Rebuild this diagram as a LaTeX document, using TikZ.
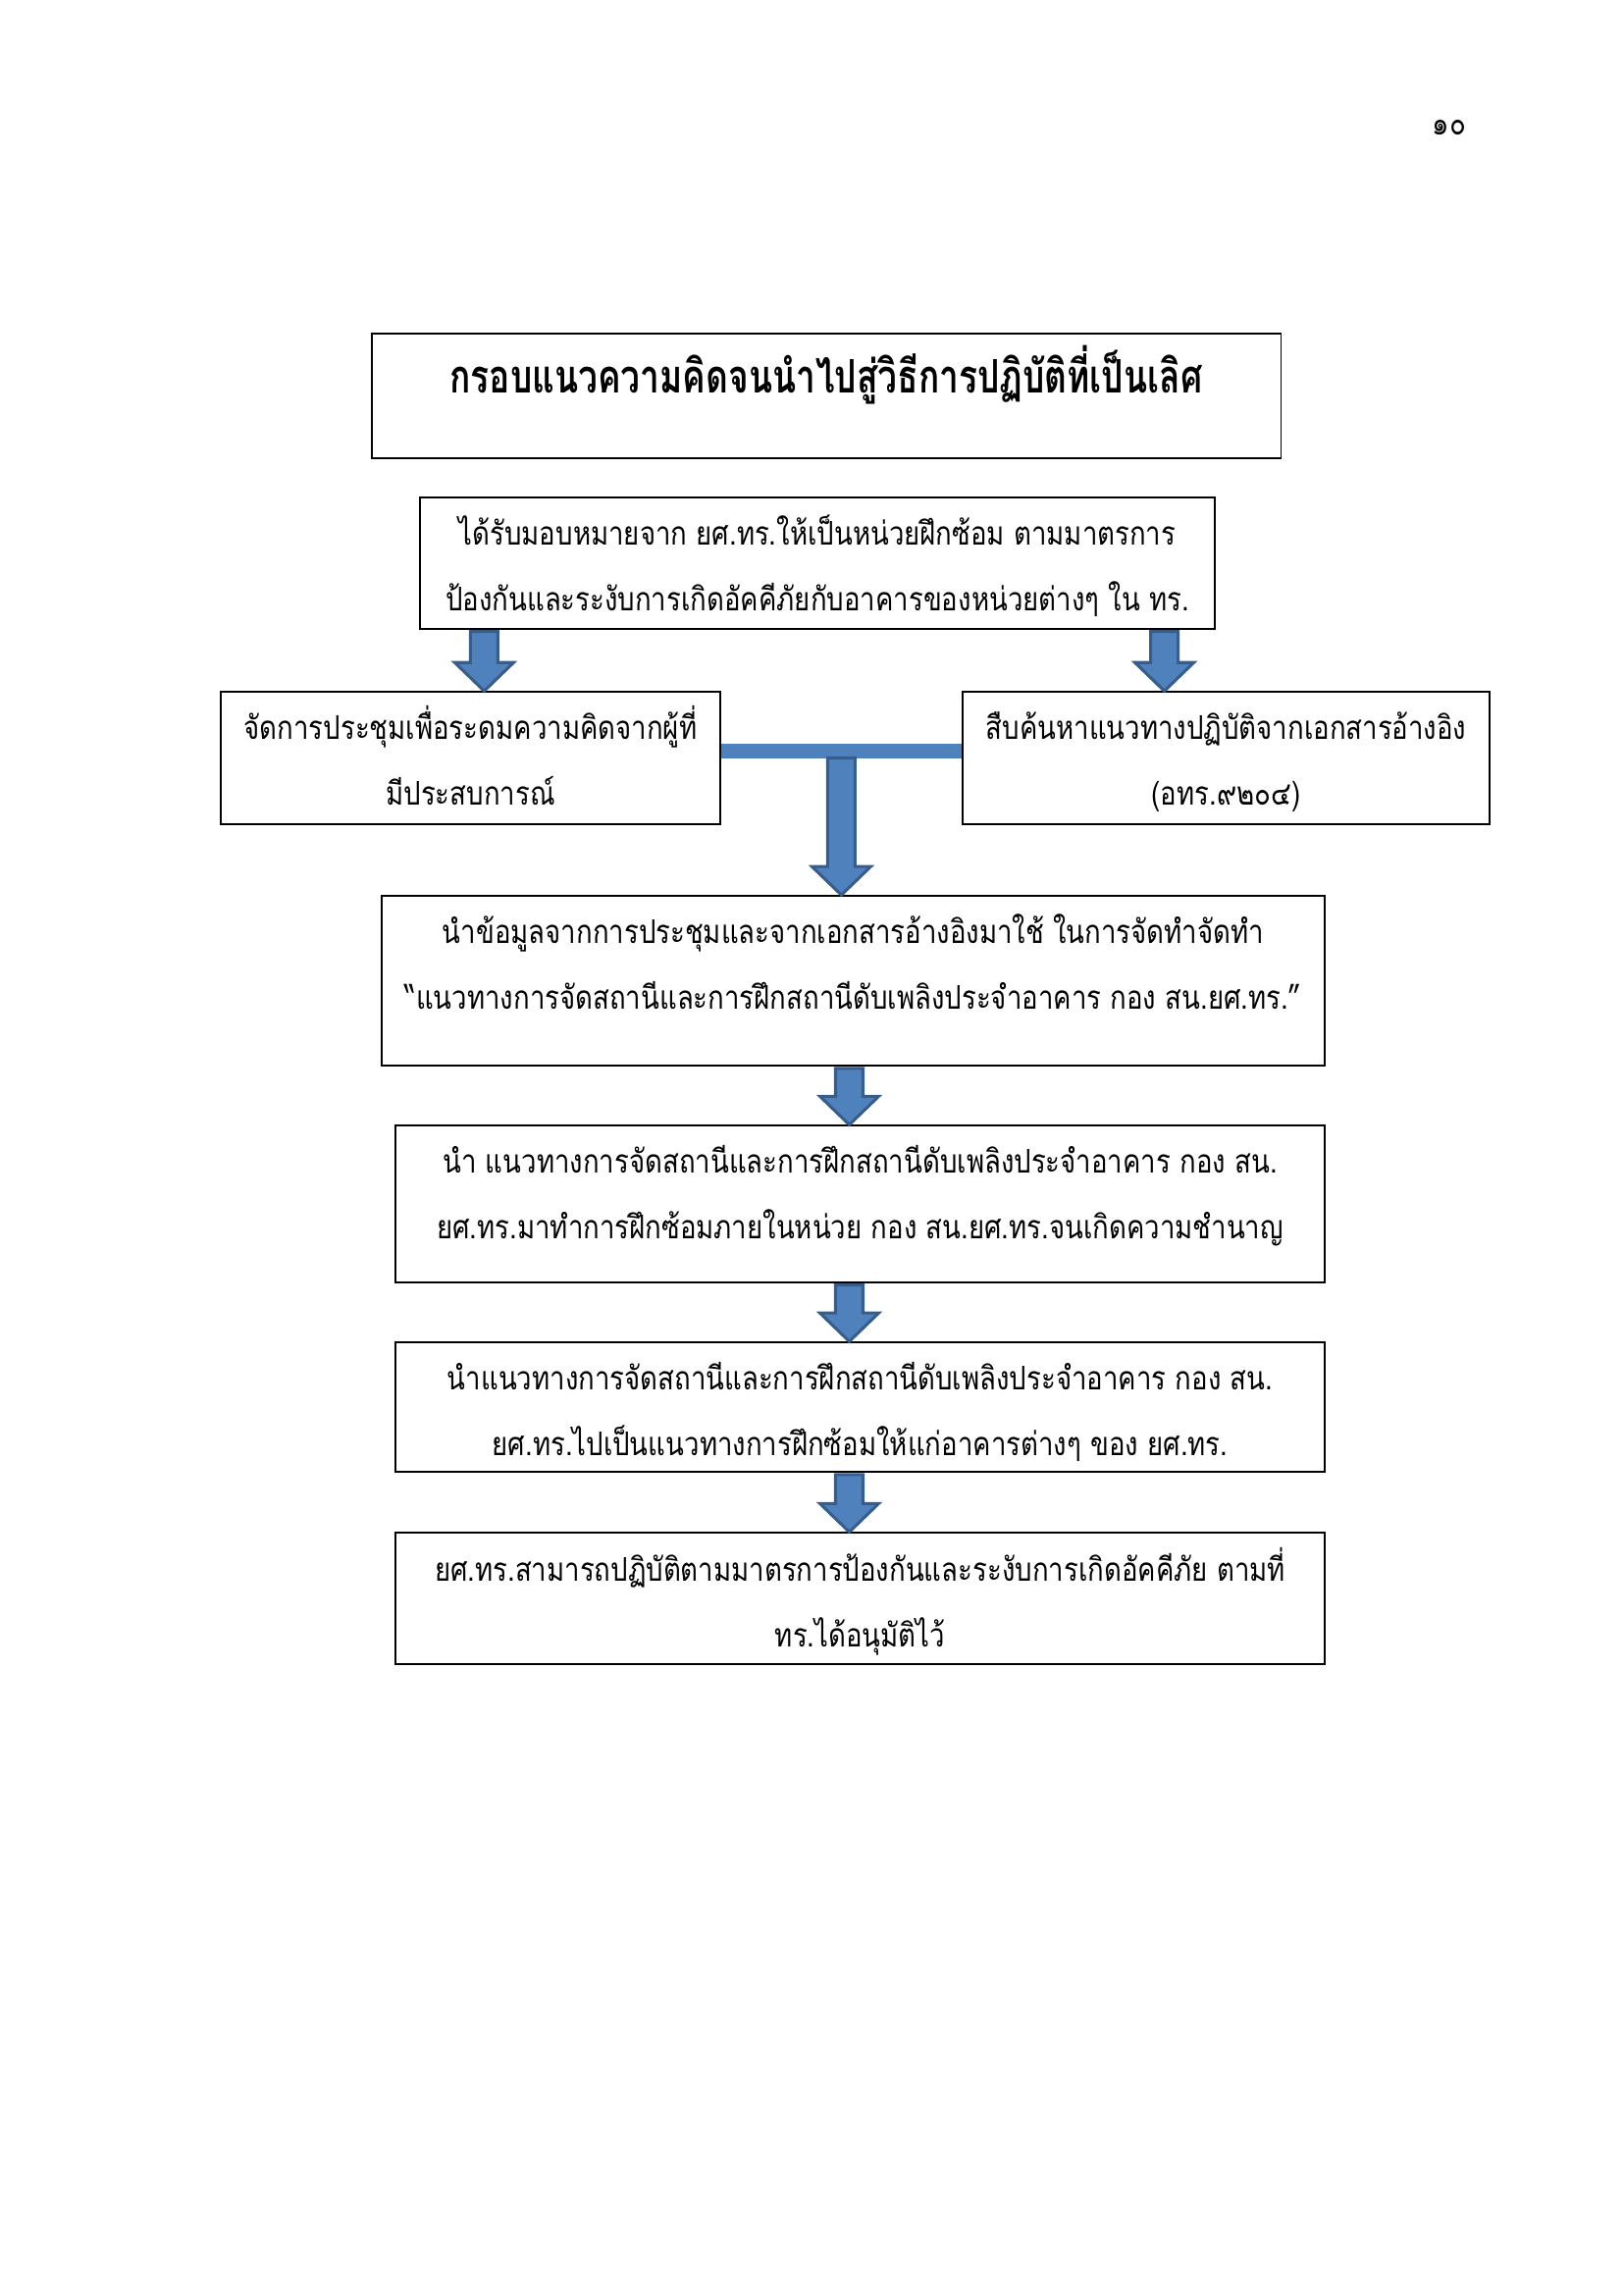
\documentclass[tikz,border=0pt]{standalone}
\usepackage{fontspec}
\newfontfamily\thaifont[Script=Thai, FakeStretch=0.83]{Loma}
\newfontfamily\thaihead[Script=Thai, FakeStretch=0.75]{Loma}
\usepackage{xcolor}
\definecolor{arblue}{HTML}{4F81BD}
\definecolor{ardark}{HTML}{385D8A}
\usetikzlibrary{positioning,calc}
\tikzset{
  nb/.style={draw=black, line width=0.5pt, align=center, inner sep=0pt,
             font=\thaifont\fontsize{12}{24.2}\selectfont},
  ntitle/.style={nb, font=\thaihead\bfseries\fontsize{17}{20}\selectfont},
  npage/.style={font=\thaifont\fontsize{12}{14}\selectfont, inner sep=0pt},
  blk/.style={fill=arblue, draw=ardark, line width=1.1pt, line join=miter},
  bar/.style={draw=arblue, line width=1.8mm},
}
\newcommand\blkdown[3]{%
  \filldraw[blk] ($(#2)+(-#1,0)$) -- ($(#2)+(#1,0)$) -- ($(#3)+(#1,-29)$)
    -- ($(#3)+(30,-29)$) -- (#3) -- ($(#3)+(-30,-29)$) -- ($(#3)+(-#1,-29)$) -- cycle;}
\newcommand\liftby[1]{\rule{0pt}{#1}}
\newcommand\dropby[1]{\rule[-#1]{0pt}{0pt}}

\begin{document}
\begin{tikzpicture}[x=0.12696mm, y=-0.12696mm]
  \useasboundingbox (0,0) rectangle (1654,2339);
  \node[npage] (pg) at (1477,130) {๑๐};
  \node[ntitle, minimum width=117.6mm, minimum height=16.1mm] (t) at (842,403.5)
    {\liftby{22pt}กรอบแนวความคิดจนนำไปสู่วิธีการปฏิบัติที่เป็นเลิศ\dropby{23.9pt}};
  \node[nb, minimum width=102.8mm, minimum height=17mm] (b1) at (833,574)
    {\liftby{17.7pt}ได้รับมอบหมายจาก ยศ.ทร.ให้เป็นหน่วยฝึกซ้อม ตามมาตรการ\\
     ป้องกันและระงับการเกิดอัคคีภัยกับอาคารของหน่วยต่างๆ ใน ทร.\dropby{6.5pt}};
  \node[nb, minimum width=64.6mm, minimum height=17.1mm] (l) at (479.5,772.5)
    {\liftby{17.7pt}จัดการประชุมเพื่อระดมความคิดจากผู้ที่\\มีประสบการณ์\dropby{6.9pt}};
  \node[nb, minimum width=68.2mm, minimum height=17.1mm] (r) at (1249.5,772.5)
    {\liftby{17.7pt}สืบค้นหาแนวทางปฏิบัติจากเอกสารอ้างอิง\\(อทร.๙๒๐๔)\dropby{6.9pt}};
  \node[nb, minimum width=122mm, minimum height=22mm] (b3) at (869.5,999.5)
    {\liftby{17.7pt}นำข้อมูลจากการประชุมและจากเอกสารอ้างอิงมาใช้ ในการจัดทำจัดทำ\\
     “แนวทางการจัดสถานีและการฝึกสถานีดับเพลิงประจำอาคาร กอง สน.ยศ.ทร.”\dropby{20.6pt}};
  \node[nb, minimum width=120.2mm, minimum height=20.3mm] (b4) at (876.5,1227)
    {\liftby{17.7pt}นำ แนวทางการจัดสถานีและการฝึกสถานีดับเพลิงประจำอาคาร กอง สน.\\
     ยศ.ทร.มาทำการฝึกซ้อมภายในหน่วย กอง สน.ยศ.ทร.จนเกิดความชำนาญ\dropby{15.9pt}};
  \node[nb, minimum width=120.2mm, minimum height=16.8mm] (b5) at (876.5,1434)
    {\liftby{17.7pt}นำแนวทางการจัดสถานีและการฝึกสถานีดับเพลิงประจำอาคาร กอง สน.\\
     ยศ.ทร.ไปเป็นแนวทางการฝึกซ้อมให้แก่อาคารต่างๆ ของ ยศ.ทร.\dropby{5.8pt}};
  \node[nb, minimum width=120.2mm, minimum height=17mm] (b6) at (876.5,1629)
    {\liftby{17.7pt}ยศ.ทร.สามารถปฏิบัติตามมาตรการป้องกันและระงับการเกิดอัคคีภัย ตามที่\\
     ทร.ได้อนุมัติไว้\dropby{6.5pt}};

  \coordinate (al) at ($(b1.south west)+(66,2)$);
  \coordinate (alt) at (al |- l.north);
  \coordinate (ar) at ($(b1.south east)+(-52,2)$);
  \coordinate (art) at (ar |- r.north);
  \blkdown{14}{al}{alt}
  \blkdown{14}{ar}{art}
  \draw[bar] ($(l.east)+(0,-7)$) -- ($(r.west)+(0,-7)$);
  \coordinate (bm) at ($(l.east)!0.5!(r.west)$);
  \coordinate (bmt) at (bm |- b3.north);
  \blkdown{14}{bm}{bmt}
  \coordinate (a34) at ($(b3.south)+(-4,2)$);
  \coordinate (a34t) at (a34 |- b4.north);
  \blkdown{14}{a34}{a34t}
  \coordinate (a45) at ($(a34 |- b4.south)+(0,2)$);
  \coordinate (a45t) at (a45 |- b5.north);
  \blkdown{14}{a45}{a45t}
  \coordinate (a56) at ($(a34 |- b5.south)+(0,2)$);
  \coordinate (a56t) at (a56 |- b6.north);
  \blkdown{14}{a56}{a56t}
\end{tikzpicture}
\end{document}
